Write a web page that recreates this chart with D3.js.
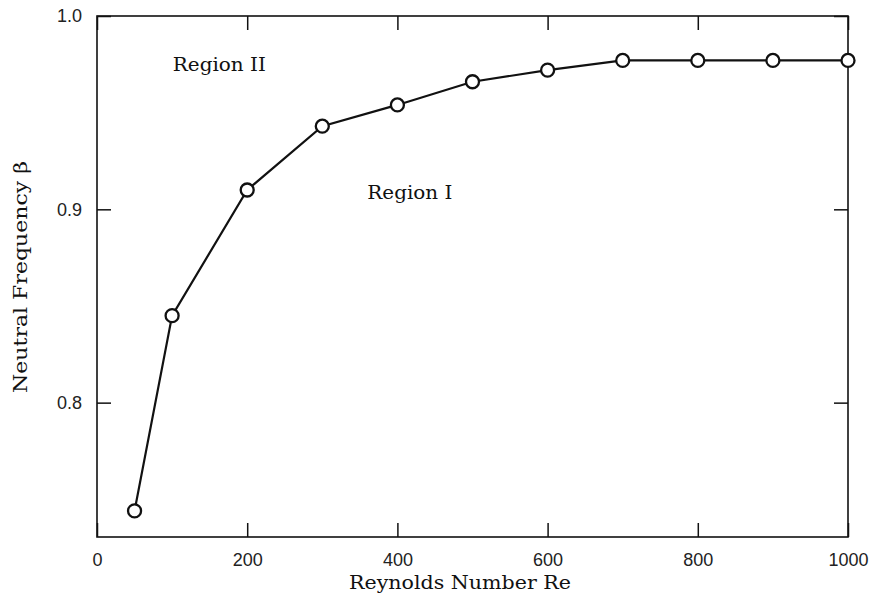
<!DOCTYPE html>
<html>
<head>
<meta charset="utf-8">
<script src="https://cdn.jsdelivr.net/npm/d3@7"></script>
<style>
  html, body { margin: 0; padding: 0; background: #fff; }
  svg { display: block; }
</style>
</head>
<body>
<svg id="chart" width="873" height="596"></svg>
<script>
const reynolds = [50, 100, 200, 300, 400, 500, 600, 700, 800, 900, 1000];
const beta = [0.744, 0.845, 0.910, 0.943, 0.954, 0.966, 0.972, 0.977, 0.977, 0.977, 0.977];
const xTicks = [0, 200, 400, 600, 800, 1000];
const yTicks = [0.8, 0.9, 1.0];
const xTitle = "Reynolds Number Re";
const yTitle = "Neutral Frequency \u03B2";
const regionLabels = [
  { text: "Region II", re: 101, b: 0.9715 },
  { text: "Region I", re: 360, b: 0.9055 }
];

const svg = d3.select("#chart");
const margin = { left: 97, right: 873 - 848, top: 16, bottom: 596 - 537 };
const W = 873, H = 596;

const x = d3.scaleLinear().domain([0, 1000]).range([margin.left, W - margin.right]);
const y = d3.scaleLinear().domain([0.7305, 1.0]).range([H - margin.bottom, margin.top]);

const ink = "#111";
const tickFont = "'Liberation Sans', Arial, sans-serif";
const serif = "'DejaVu Serif', 'Liberation Serif', serif";

// Frame
svg.append("rect")
  .attr("x", x(0)).attr("y", y(1.0))
  .attr("width", x(1000) - x(0)).attr("height", y(0.7305) - y(1.0))
  .attr("fill", "none").attr("stroke", ink).attr("stroke-width", 1.6);

function styleAxis(g) {
  g.select(".domain").remove();
  g.selectAll(".tick line").attr("stroke", ink).attr("stroke-width", 1.5);
  g.selectAll(".tick text").attr("fill", "#222")
    .style("font-family", tickFont).style("font-size", "18px");
}

svg.append("g").attr("transform", `translate(0,${y.range()[0]})`)
  .call(d3.axisBottom(x).tickValues(xTicks).tickSize(-14).tickPadding(16).tickFormat(d3.format("d")))
  .call(styleAxis);
svg.append("g").attr("transform", `translate(0,${y.range()[1]})`)
  .call(d3.axisTop(x).tickValues(xTicks).tickSize(-14).tickFormat(""))
  .call(styleAxis);
svg.append("g").attr("transform", `translate(${x.range()[0]},0)`)
  .call(d3.axisLeft(y).tickValues(yTicks).tickSize(-14).tickPadding(15).tickFormat(d3.format(".1f")))
  .call(styleAxis);
svg.append("g").attr("transform", `translate(${x.range()[1]},0)`)
  .call(d3.axisRight(y).tickValues(yTicks).tickSize(-14).tickFormat(""))
  .call(styleAxis);

// Line
const pts = reynolds.map((r, i) => [r, beta[i]]);
svg.append("path")
  .datum(pts)
  .attr("fill", "none").attr("stroke", ink).attr("stroke-width", 2.2)
  .attr("d", d3.line().x(d => x(d[0])).y(d => y(d[1])));

svg.selectAll("circle.pt").data(pts).enter().append("circle")
  .attr("class", "pt")
  .attr("cx", d => x(d[0])).attr("cy", d => y(d[1]))
  .attr("r", 6.5)
  .attr("fill", "#fff").attr("stroke", ink).attr("stroke-width", 2.3);

// Region labels
svg.selectAll("text.region").data(regionLabels).enter().append("text")
  .attr("class", "region")
  .attr("x", d => x(d.re)).attr("y", d => y(d.b))
  .attr("fill", ink)
  .style("font-family", serif).style("font-size", "19px")
  .attr("textLength", d => d.text === "Region II" ? 93 : 85)
  .attr("lengthAdjust", "spacingAndGlyphs")
  .text(d => d.text);

// Axis titles
svg.append("text")
  .attr("x", 460).attr("y", 589)
  .attr("text-anchor", "middle")
  .attr("fill", ink)
  .style("font-family", serif).style("font-size", "19px")
  .attr("textLength", 222)
  .attr("lengthAdjust", "spacingAndGlyphs")
  .text(xTitle);

svg.append("text")
  .attr("transform", "translate(27,277) rotate(-90)")
  .attr("text-anchor", "middle")
  .attr("fill", ink)
  .style("font-family", serif).style("font-size", "19px")
  .attr("textLength", 232)
  .attr("lengthAdjust", "spacingAndGlyphs")
  .text(yTitle);
</script>
</body>
</html>
